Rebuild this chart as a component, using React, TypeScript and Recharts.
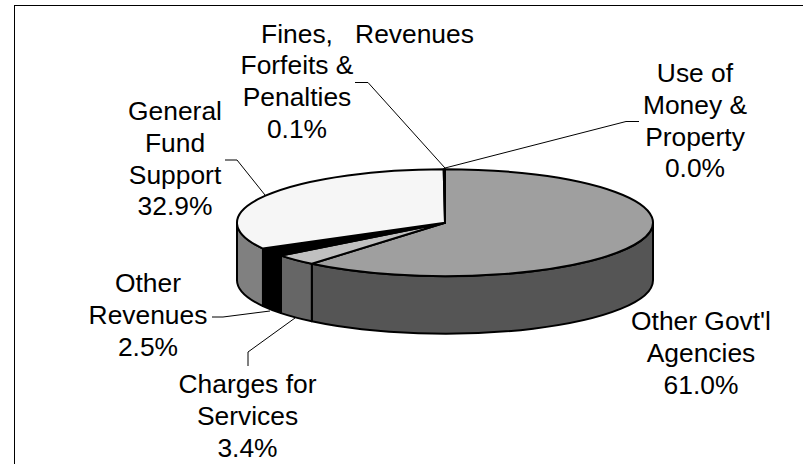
import { Pie, PieChart } from "recharts";

const CATEGORIES = [
  "Other Govt'l Agencies",
  "Charges for Services",
  "Other Revenues",
  "General Fund Support",
  "Fines, Forfeits & Penalties",
  "Use of Money & Property",
];
const SHARES = [61.0, 3.4, 2.5, 32.9, 0.1, 0.0];

const TOP_FILLS = ["#9f9f9f", "#c0c0c0", "#000000", "#f6f6f6", "#ffffff", "#dddddd"];
const SIDE_FILLS = ["#555555", "#666666", "#000000", "#808080", "#808080", "#6e6e6e"];

const LABEL_LINES = [
  ["Other Govt'l", "Agencies"],
  ["Charges for", "Services"],
  ["Other", "Revenues"],
  ["General", "Fund", "Support"],
  ["Fines,", "Forfeits &", "Penalties"],
  ["Use of", "Money &", "Property"],
];
const STRAY_TEXT = "Revenues";

const WIDTH = 803;
const HEIGHT = 464;
const CX = 445;
const CY = 222.7;
const RX = 208;
const RY = 53.5;
const DEPTH = 57.5;
const FONT_SIZE = 26.4;
const LINE_STEP = 31.8;

// where each label block sits: centre x, first baseline, leader polyline
const LABEL_LAYOUT = [
  { x: 701, y: 330, leader: "" },
  { x: 247.5, y: 393, leader: "248,366 248,352 295,318" },
  { x: 148, y: 292, leader: "212,317 223,317 270,311" },
  { x: 175, y: 120, leader: "225,160 237,160 265,195" },
  { x: 297, y: 42.5, leader: "355,82.5 368,82.5 445,168" },
  { x: 695, y: 82, leader: "639,121.5 626,121.5 445,168" },
];

const chartData = CATEGORIES.map((name, i) => ({ name, value: SHARES[i] }));

const RAD = Math.PI / 180;
const px = (a: number) => CX + RX * Math.cos(a * RAD);
const py = (a: number) => CY - RY * Math.sin(a * RAD);

function TopFace(props: any) {
  const { startAngle, endAngle, index } = props;
  const i = index ?? CATEGORIES.indexOf(props.name);
  const large = startAngle - endAngle > 180 ? 1 : 0;
  const d = `M${CX},${CY} L${px(startAngle)},${py(startAngle)} A${RX},${RY} 0 ${large} 1 ${px(endAngle)},${py(endAngle)} Z`;
  return <path d={d} fill={TOP_FILLS[i]} stroke="#000" strokeWidth={2} strokeLinejoin="round" />;
}

function SideWall(props: any) {
  const { startAngle, endAngle, index } = props;
  const i = index ?? CATEGORIES.indexOf(props.name);
  // only the front half of the rim faces the viewer
  const hi = Math.min(startAngle, 0);
  const lo = Math.max(endAngle, -180);
  if (lo >= hi) return null;
  const d =
    `M${px(hi)},${py(hi)} A${RX},${RY} 0 0 1 ${px(lo)},${py(lo)} ` +
    `L${px(lo)},${py(lo) + DEPTH} A${RX},${RY} 0 0 0 ${px(hi)},${py(hi) + DEPTH} Z`;
  return <path d={d} fill={SIDE_FILLS[i]} stroke="#000" strokeWidth={2} strokeLinejoin="round" />;
}

function renderLabel(props: any) {
  const i = props.index;
  const layout = LABEL_LAYOUT[i];
  const lines = [...LABEL_LINES[i], `${SHARES[i].toFixed(1)}%`];
  return (
    <g key={i}>
      {layout.leader && <polyline points={layout.leader} fill="none" stroke="#000" strokeWidth={1} />}
      <text
        textAnchor="middle"
        fontFamily="'Liberation Sans', Arial, sans-serif"
        fontSize={FONT_SIZE}
        fill="#000"
      >
        {lines.map((line, j) => (
          <tspan key={j} x={layout.x} y={layout.y + j * LINE_STEP}>
            {line}
          </tspan>
        ))}
        {i === 4 && (
          <tspan x={414.5} y={layout.y}>
            {STRAY_TEXT}
          </tspan>
        )}
      </text>
    </g>
  );
}

export default function App() {
  return (
    <div style={{ position: "fixed", left: 0, top: 0, width: WIDTH, height: HEIGHT, background: "#fff", overflow: "hidden" }}>
      <div
        style={{
          position: "absolute",
          left: 14,
          top: 5,
          width: WIDTH,
          height: HEIGHT,
          borderTop: "1.5px solid #000",
          borderLeft: "1.5px solid #000",
        }}
      />
      <div style={{ position: "absolute", left: 0, top: 0 }}>
        <PieChart width={WIDTH} height={HEIGHT} margin={{ top: 0, right: 0, bottom: 0, left: 0 }}>
          <Pie
            data={chartData}
            dataKey="value"
            nameKey="name"
            cx={CX}
            cy={CY}
            outerRadius={RX}
            startAngle={90}
            endAngle={-270}
            stroke="none"
            shape={SideWall}
            isAnimationActive={false}
          />
          <Pie
            data={chartData}
            dataKey="value"
            nameKey="name"
            cx={CX}
            cy={CY}
            outerRadius={RX}
            startAngle={90}
            endAngle={-270}
            stroke="none"
            shape={TopFace}
            label={renderLabel}
            labelLine={false}
            isAnimationActive={false}
          />
        </PieChart>
      </div>
    </div>
  );
}
